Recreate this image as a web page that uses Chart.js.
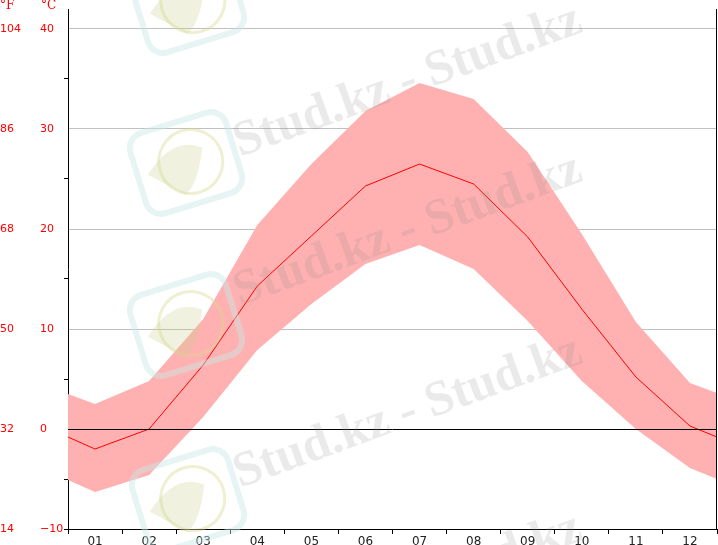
<!DOCTYPE html>
<html>
<head>
<meta charset="utf-8">
<script src="https://cdn.jsdelivr.net/npm/chart.js@4.4.1/dist/chart.umd.min.js"></script>
<style>
  html, body { margin: 0; padding: 0; background: #fff; }
</style>
</head>
<body>
<canvas id="myChart" width="718" height="545"></canvas>
<script>
// months and the x position of each point (edges are half a month out)
var months = ['01', '02', '03', '04', '05', '06', '07', '08', '09', '10', '11', '12'];
var xPos = [0.5, 1, 2, 3, 4, 5, 6, 7, 8, 9, 10, 11, 12, 12.5];

// temperatures, °C
var meanTemp = [-0.8, -2.0, 0.0, 6.4, 14.3, 19.3, 24.3, 26.5, 24.5, 19.2, 12.0, 5.2, 0.3, -0.8];
var maxTemp  = [3.5, 2.5, 4.8, 11.0, 20.4, 26.5, 31.8, 34.6, 33.0, 27.7, 19.5, 10.7, 4.6, 3.6];
var minTemp  = [-5.1, -6.3, -4.6, 1.2, 7.9, 12.5, 16.5, 18.4, 16.0, 10.8, 4.8, 0.0, -3.9, -5.0];

// axis labels
var cTicks = [-10, 0, 10, 20, 30, 40];
var cLabels = ['\u221210', '0', '10', '20', '30', '40'];
var fLabels = ['14', '32', '50', '68', '86', '104'];

function pts(arr) {
  return xPos.map(function(x, i) { return { x: x, y: arr[i] }; });
}

var wmRows = [[240, 157], [240, 306], [240, 488], [240, 665]];
var logos = [[188, 2], [186, 163], [186, 325], [188, 500]];

var extras = {
  id: 'extras',
  afterDatasetsDraw: function(chart) {
    var c = chart.ctx, a = chart.chartArea, y = chart.scales.y;
    c.save();
    c.strokeStyle = '#000';
    c.lineWidth = 1;
    var y0 = Math.round(y.getPixelForValue(0)) + 0.5;
    c.beginPath();
    c.moveTo(a.left, y0); c.lineTo(a.right, y0);
    c.moveTo(a.right - 0.5, a.top); c.lineTo(a.right - 0.5, a.bottom);
    c.stroke();
    c.restore();
  },
  afterDraw: function(chart) {
    var c = chart.ctx, y = chart.scales.y, yF = chart.scales.yF;
    c.save();
    // unit headers
    c.fillStyle = '#ff0000';
    c.font = '12px "DejaVu Serif"';
    c.textBaseline = 'top';
    c.textAlign = 'left';
    c.fillText('°F', yF.left, 0);
    c.fillText('°C', y.left + 1, 0);

    // watermark logos
    logos.forEach(function(p) {
      c.save();
      c.translate(p[0], p[1]);
      c.rotate(-0.3);
      c.strokeStyle = 'rgba(200,230,230,0.45)';
      c.lineWidth = 6;
      c.beginPath();
      c.roundRect(-50, -42, 100, 84, 16);
      c.stroke();
      c.strokeStyle = 'rgba(215,215,140,0.4)';
      c.lineWidth = 3;
      c.beginPath();
      c.arc(5, 0, 32, 0, Math.PI * 2);
      c.stroke();
      c.fillStyle = 'rgba(200,210,140,0.28)';
      c.beginPath();
      c.moveTo(-40, 0); c.quadraticCurveTo(-5, -30, 20, -10);
      c.quadraticCurveTo(5, 25, -10, 30); c.closePath();
      c.fill();
      c.restore();
    });

    // watermark text
    c.font = 'bold 50px "Liberation Serif"';
    c.fillStyle = 'rgba(140,140,140,0.18)';
    c.textAlign = 'left';
    c.textBaseline = 'alphabetic';
    wmRows.forEach(function(p) {
      c.save();
      c.translate(p[0], p[1]);
      c.rotate(-0.35);
      c.fillText('Stud.kz - Stud.kz', 0, 0);
      c.restore();
    });
    c.restore();
  }
};

function noPad(s) { s.paddingTop = 0; s.paddingBottom = 0; }

var ctx = document.getElementById('myChart');
var myChart = new Chart(ctx, {
  type: 'line',
  data: {
    datasets: [
      {
        data: pts(meanTemp),
        borderColor: '#ff0000',
        borderWidth: 1,
        pointRadius: 0,
        fill: false,
        order: 0
      },
      {
        data: pts(maxTemp),
        borderWidth: 0,
        borderColor: 'transparent',
        pointRadius: 0,
        fill: false,
        order: 1
      },
      {
        data: pts(minTemp),
        borderWidth: 0,
        borderColor: 'transparent',
        backgroundColor: '#ffb1b1',
        pointRadius: 0,
        fill: '-1',
        order: 2
      }
    ]
  },
  options: {
    responsive: false,
    animation: false,
    events: [],
    layout: { padding: { top: 9, right: 1, left: 0, bottom: 0 } },
    plugins: { legend: { display: false }, tooltip: { enabled: false } },
    scales: {
      x: {
        type: 'linear',
        min: 0.5,
        max: 12.5,
        afterBuildTicks: function(s) {
          var t = [{ value: 0.5 }];
          months.forEach(function(m, i) { t.push({ value: i + 1 }, { value: i + 1.5 }); });
          s.ticks = t;
        },
        afterFit: function(s) { s.height = 16; },
        ticks: {
          autoSkip: false,
          maxRotation: 0,
          padding: 1,
          color: '#222',
          font: { family: 'DejaVu Sans', size: 12 },
          callback: function(v) { return Number.isInteger(v) ? months[v - 1] : ''; }
        },
        grid: {
          drawOnChartArea: false,
          tickLength: 5,
          tickColor: function(c) { return Number.isInteger(c.tick.value) ? 'transparent' : '#000'; }
        },
        border: { color: '#000', width: 1 }
      },
      y: {
        position: 'left',
        weight: 0,
        min: -10,
        max: 42,
        afterBuildTicks: function(s) {
          var t = [];
          for (var v = -10; v <= 40; v += 5) t.push({ value: v });
          s.ticks = t;
        },
        afterFit: function(s) { s.width = 28; noPad(s); },
        ticks: {
          padding: 0,
          crossAlign: 'far',
          color: '#ff0000',
          font: { family: 'DejaVu Sans', size: 11 },
          callback: function(v) { var i = cTicks.indexOf(v); return i >= 0 ? cLabels[i] : ''; }
        },
        grid: {
          tickLength: 4,
          color: function(c) {
            var v = c.tick.value;
            return (v % 10 === 0 && v > 0) ? '#c0c0c0' : 'transparent';
          },
          tickColor: function(c) {
            var v = c.tick.value;
            return (v % 10 === 0 && v > -10) ? 'transparent' : '#000';
          }
        },
        border: { color: '#000', width: 1 }
      },
      yF: {
        position: 'left',
        weight: 1,
        min: -10,
        max: 42,
        afterBuildTicks: function(s) {
          s.ticks = cTicks.map(function(v) { return { value: v }; });
        },
        afterFit: function(s) { s.width = 40; noPad(s); },
        ticks: {
          padding: 0,
          crossAlign: 'far',
          color: '#ff0000',
          font: { family: 'DejaVu Sans', size: 11 },
          callback: function(v) { var i = cTicks.indexOf(v); return i >= 0 ? fLabels[i] : ''; }
        },
        grid: { display: false },
        border: { display: false }
      }
    }
  },
  plugins: [extras]
});
</script>
</body>
</html>
